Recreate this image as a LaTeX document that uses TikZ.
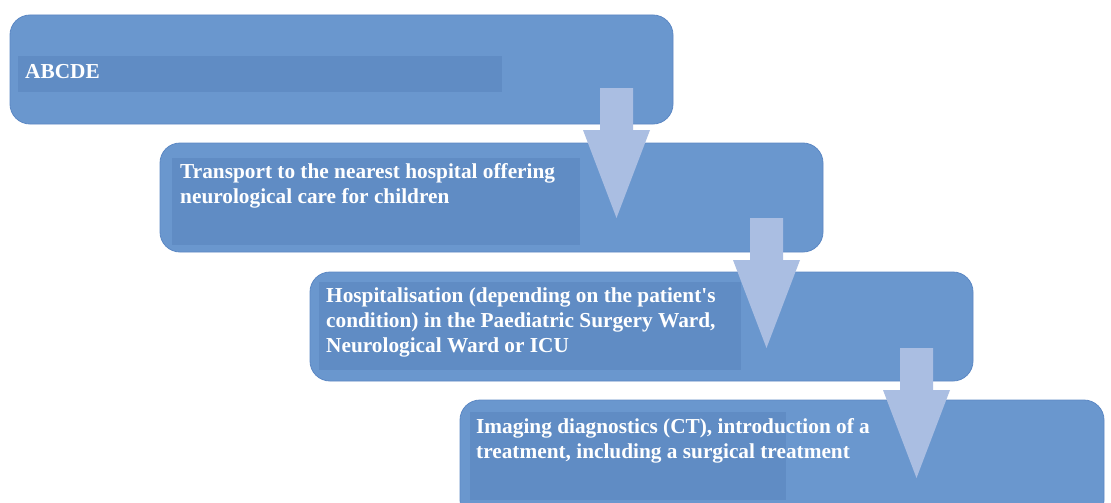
\documentclass[tikz,border=0pt]{standalone}
\usepackage{fontspec}
\newfontfamily\stepfont{Liberation Serif}
\definecolor{boxblue}{RGB}{106,151,206}
\definecolor{boxedge}{RGB}{92,136,196}
\definecolor{innerblue}{RGB}{96,140,196}
\definecolor{arrowfill}{RGB}{170,190,226}
\tikzset{
  stepbox/.style={draw=boxedge, line width=0.8pt, fill=boxblue, rounded corners=20pt,
    minimum width=663pt, minimum height=109pt, inner sep=0pt},
  steptext/.style={anchor=north west, inner sep=0pt, align=left, text=white,
    font=\stepfont\fontsize{21.3}{25}\selectfont\bfseries},
  blockarrow/.pic={
    \fill[arrowfill] (-16.5,0) -- (16.5,0) -- (16.5,42) -- (33.5,42) -- (0,130)
      -- (-33.5,42) -- (-16.5,42) -- cycle;
  }
}
\begin{document}
\begin{tikzpicture}[x=1pt,y=-1pt]
\useasboundingbox (0,0) rectangle (1111,503);
\clip (0,0) rectangle (1111,503);
\fill[white] (0,0) rectangle (1111,503);
% boxes
\node[stepbox] (b1) at (341.5,69.5) {};
\node[stepbox] (b2) at (491.5,197.5) {};
\node[stepbox] (b3) at (641.5,326.5) {};
\node[stepbox, minimum width=644pt, minimum height=120pt] (b4) at (782,460) {};
% inner text panels
\fill[innerblue] (18,56) rectangle (502,92);
\fill[innerblue] (172,158) rectangle (580,245);
\fill[innerblue] (319,282) rectangle (741,370);
\fill[innerblue] (470,412) rectangle (786,500);
% texts
\node[steptext] (t1) at (25,64) {ABCDE};
\node[steptext] (t2) at (180,163) {Transport to the nearest hospital offering\\neurological care for children};
\node[steptext] (t3) at (326,288) {Hospitalisation (depending on the patient's\\condition) in the Paediatric Surgery Ward,\\Neurological Ward or ICU};
\node[steptext] (t4) at (476,418) {Imaging diagnostics (CT), introduction of a\\treatment, including a surgical treatment};
% arrows
\coordinate (a1) at (616.5,88);
\coordinate (a2) at (766.5,218);
\coordinate (a3) at (916.5,348);
\pic at (a1) {blockarrow};
\pic at (a2) {blockarrow};
\pic at (a3) {blockarrow};
\end{tikzpicture}
\end{document}
